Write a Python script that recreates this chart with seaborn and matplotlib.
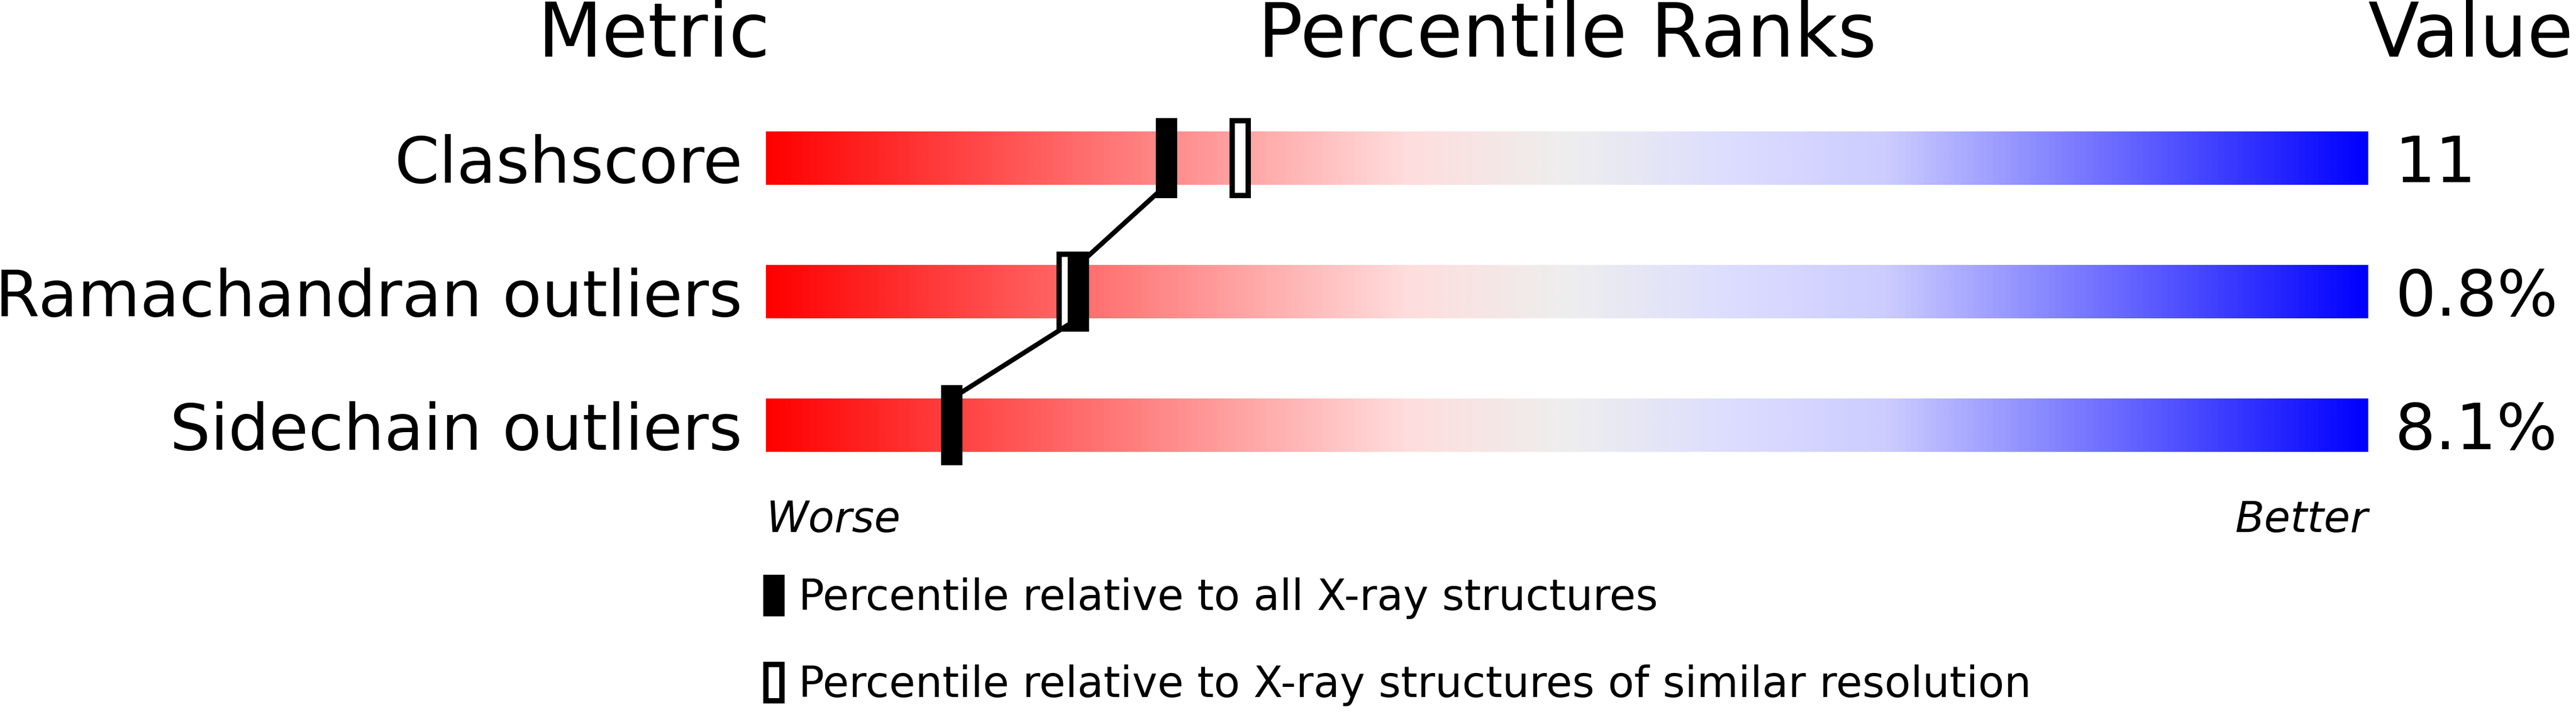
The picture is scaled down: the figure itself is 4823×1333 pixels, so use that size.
import numpy as np
import pandas as pd
import matplotlib
matplotlib.use("Agg")
import matplotlib.pyplot as plt
import seaborn as sns
from matplotlib.colors import LinearSegmentedColormap
from matplotlib.patches import Rectangle
from matplotlib.legend_handler import HandlerPatch

# ---------------- data ----------------
metrics = ["Clashscore", "Ramachandran outliers", "Sidechain outliers"]
values = ["11", "0.8%", "8.1%"]
pct_all = [25.0, 19.5, 11.6]          # percentile relative to all X-ray structures
pct_similar = [29.6, 18.8, np.nan]    # percentile relative to similar resolution
legend_labels = ["Percentile relative to all X-ray structures",
                 "Percentile relative to X-ray structures of similar resolution"]
headers = ["Metric", "Percentile Ranks", "Value"]
axis_ends = ["Worse", "Better"]
scale_max = [100, 100, 100]
grad_stops = [(0.0, "#FF0000"), (0.4, "#FFDDDD"), (0.5, "#EEEEEE"),
              (0.6, "#DDDDFF"), (0.7, "#CCCCFF"), (1.0, "#0000FF")]

# ---------------- layout (pixels) ----------------
W, H, DPI = 4823, 1333, 100
PX = 72 / DPI                     # points per pixel
bar_l, bar_r = 1434, 4434
row_pitch = 250
first_center = 296
bar_h_px = 100
mk_w_px, mk_h_px, stroke_px = 40, 150, 10
line_px = 9

sns.set_style("white")
plt.rcParams["font.family"] = ["DejaVu Sans"]
plt.rcParams["text.color"] = "black"
plt.rcParams["ytick.color"] = "black"
plt.rcParams["ytick.labelcolor"] = "black"

fig = plt.figure(figsize=(W / DPI, H / DPI), dpi=DPI)
n = len(metrics)
ax_top = first_center - row_pitch / 2
ax_bottom = ax_top + n * row_pitch
ax = fig.add_axes([bar_l / W, 1 - ax_bottom / H, (bar_r - bar_l) / W, n * row_pitch / H])

df = pd.DataFrame({"metric": metrics, "full": scale_max})
bar_h = bar_h_px / row_pitch
sns.barplot(data=df, x="full", y="metric", orient="h", width=bar_h, ax=ax,
            color="white", linewidth=0)

cmap = LinearSegmentedColormap.from_list("slider", grad_stops)
grad = np.linspace(0, 1, 1024).reshape(1, -1)
for p in list(ax.patches):
    x0, y0 = p.get_x(), p.get_y()
    w, h = p.get_width(), p.get_height()
    im = ax.imshow(grad, cmap=cmap, aspect="auto", extent=(x0, x0 + w, y0 + h, y0),
                   interpolation="bilinear", zorder=1)
    im.set_clip_path(p)
    p.set_facecolor("none")

idx = np.arange(n)
ux = 100 / (bar_r - bar_l)
uy = 1 / row_pitch

# similar-resolution (open) markers
sim = np.array(pct_similar, dtype=float)
ok = ~np.isnan(sim)
ow = (mk_w_px - stroke_px) * ux
ax.barh(idx[ok], ow, left=sim[ok] - ow / 2, height=(mk_h_px - stroke_px) * uy,
        facecolor="white", edgecolor="black", linewidth=stroke_px * PX, zorder=3)

# connecting line
xs, ys = [], []
for i in range(n - 1):
    xs += [pct_all[i], pct_all[i + 1]]
    ys += [i + bar_h / 2, i + 1 - bar_h / 2]
sns.lineplot(x=xs, y=ys, sort=False, estimator=None, color="black",
             linewidth=line_px * PX, ax=ax, zorder=4)

# all-structures (solid) markers
sw = mk_w_px * ux
ax.barh(idx, sw, left=np.array(pct_all) - sw / 2, height=mk_h_px * uy,
        color="black", linewidth=0, zorder=5)

ax.set_xlim(0, 100)
ax.set_ylim(n - 0.5, -0.5)
ax.set_xticks([])
ax.set_xlabel("")
ax.set_ylabel("")
ax.set_yticks(idx, metrics)
ax.tick_params(axis="y", length=0, pad=44 * PX, labelsize=120 * PX, labelcolor="black")
for s in ax.spines.values():
    s.set_visible(False)

ax2 = ax.twinx()
ax2.set_ylim(ax.get_ylim())
ax2.set_yticks(idx, values)
ax2.tick_params(axis="y", length=0, pad=50 * PX, labelsize=120 * PX, labelcolor="black")
for s in ax2.spines.values():
    s.set_visible(False)

# headers
hy = 1 - 106 / H
fig.text(1442 / W, hy, headers[0], ha="right", va="baseline", fontsize=140 * PX, color="black")
fig.text((bar_l + bar_r) / 2 / W, hy, headers[1], ha="center", va="baseline", fontsize=140 * PX, color="black")
fig.text(bar_r / W, hy, headers[2], ha="left", va="baseline", fontsize=140 * PX, color="black")

# worse / better
wy = 1 - 996 / H
fig.text(bar_l / W, wy, axis_ends[0], ha="left", va="baseline", style="italic", fontsize=80 * PX, color="black")
fig.text(bar_r / W, wy, axis_ends[1], ha="right", va="baseline", style="italic", fontsize=80 * PX, color="black")

# legend
h_solid = Rectangle((0, 0), 1, 1, facecolor="black", edgecolor="none", linewidth=0)
h_open = Rectangle((0, 0), 1, 1, facecolor="white", edgecolor="black", linewidth=stroke_px * PX)


def open_patch(legend, orig_handle, xdescent, ydescent, width, height, fontsize):
    s = stroke_px * PX / 2
    return Rectangle((-xdescent + s, -ydescent + s), width - 2 * s, height - 2 * s)


leg_fs = 80
leg = fig.legend(handles=[h_solid, h_open], labels=legend_labels, loc="upper left",
                 bbox_to_anchor=(1429 / W, 1 - 1076 / H), frameon=False,
                 fontsize=leg_fs * PX, handlelength=mk_w_px / leg_fs, handleheight=90 / leg_fs,
                 handletextpad=26 / leg_fs, labelspacing=1.0, borderpad=0, borderaxespad=0,
                 handler_map={h_open: HandlerPatch(patch_func=open_patch)})
for t in leg.get_texts():
    t.set_color("black")

fig.savefig("out.png", dpi=DPI)
